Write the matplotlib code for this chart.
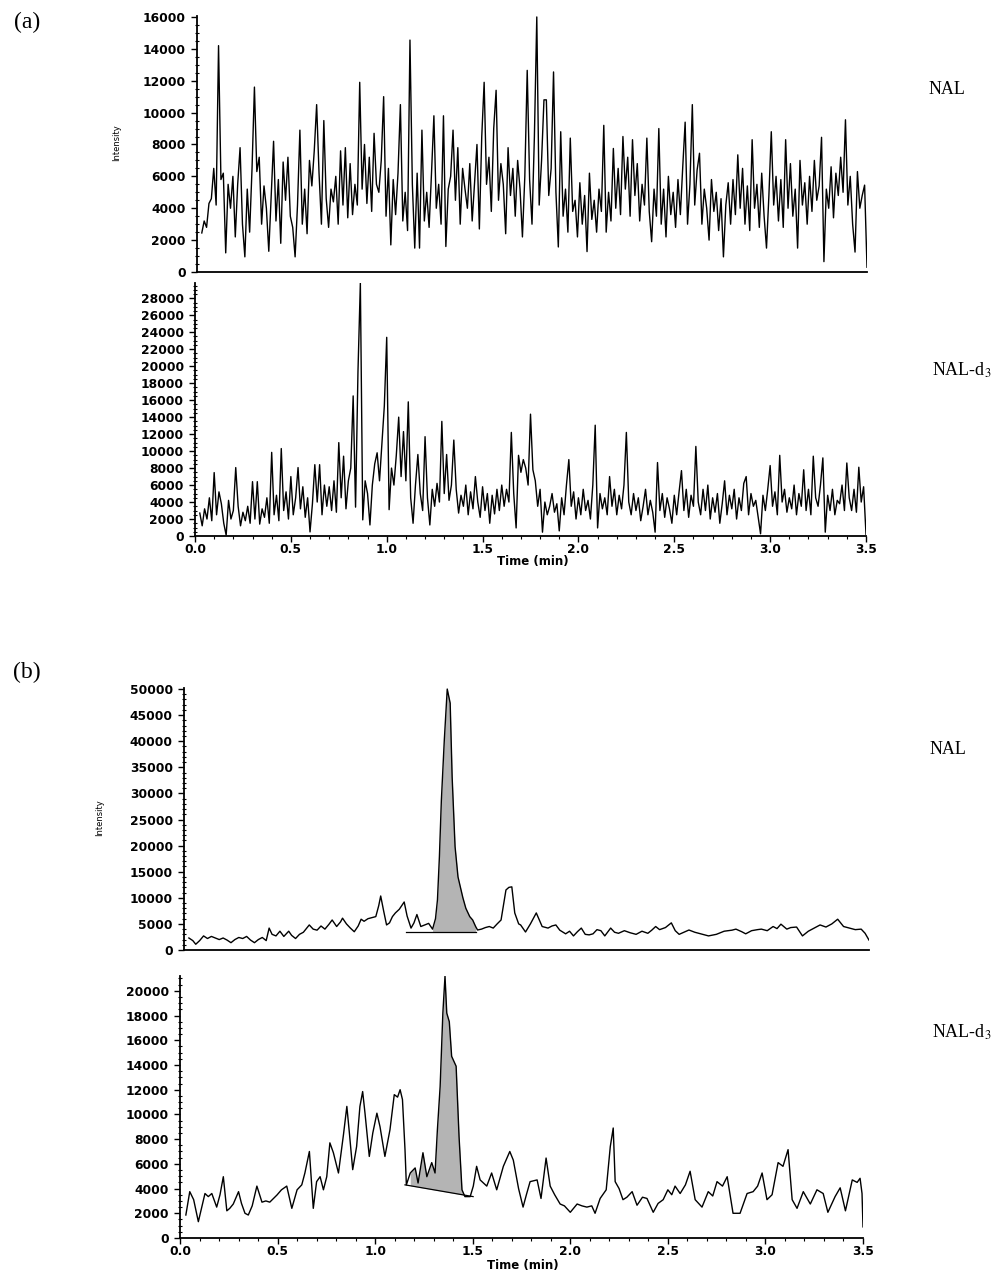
import numpy as np
import matplotlib
matplotlib.use('Agg')
import matplotlib.pyplot as plt
from matplotlib.ticker import MultipleLocator, FixedLocator

W, H = 1004, 1276

# (a) blank run, NAL trace (intensity), sampled every 0.0125 min from 0.025 to 3.5
a_nal = [
    2450, 3200, 2800, 4300, 4600, 6500,
    4200, 14200, 5800, 6200, 1200, 5500, 4000, 6000,
    2200, 5500, 7800, 3000, 950, 5200, 2500, 6500,
    11600, 6300, 7200, 3000, 5400, 4000, 1300, 4800,
    8200, 3200, 5800, 1800, 6900, 4500, 7200, 3500,
    2800, 950, 4200, 8900, 3000, 5200, 2400, 7000,
    5400, 7600, 10500, 6200, 3000, 9500, 4600, 2800,
    5200, 4400, 6000, 3000, 7600, 4200, 7800, 3400,
    6800, 3600, 5500, 4200, 11900, 5200, 8000, 4300,
    7200, 3800, 8700, 5500, 5000, 7000, 11000, 3500,
    6500, 1700, 5800, 3600, 6200, 10500, 3200, 5000,
    2600, 14550, 5500, 1500, 6200, 1500, 8900, 3200,
    5000, 2800, 6200, 9800, 4000, 5500, 3000, 9800,
    1600, 5200, 6000, 8900, 4500, 7800, 3000, 6500,
    5200, 4000, 6800, 3200, 5600, 8000, 2700, 8500,
    11900, 5500, 7200, 3800, 9000, 11400, 4500, 6800,
    5500, 2400, 7800, 4800, 6500, 3500, 7000, 5200,
    2200, 6000, 12650, 5800, 3000, 8500, 16000, 4200,
    7000, 10800, 10800, 4800, 6500, 12550, 5000, 1570,
    8800, 3500, 5200, 2500, 8400, 3800, 4500, 2200,
    5600, 3000, 4800, 1280, 6200, 3300, 4500, 2500,
    5200, 3800, 9200, 2500, 5000, 3200, 7750, 4000,
    6500, 3600, 8500, 5200, 7200, 3500, 8300, 4800,
    6800, 3200, 5500, 4200, 8400, 3800, 1900, 5200,
    3500, 9000, 3000, 5200, 2200, 6000, 3600, 5000,
    2800, 5800, 3600, 6600, 9400, 3000, 5500, 10500,
    4200, 6400, 7450, 3000, 5200, 4000, 2000, 5800,
    3800, 5000, 2600, 4600, 950, 4200, 5600, 3000,
    5800, 3600, 7350, 4000, 6500, 3000, 5400, 2600,
    8300, 4000, 5500, 2800, 6200, 3500, 1500, 4800,
    8800, 4200, 6000, 3200, 5800, 2800, 8300, 4000,
    6800, 3500, 5200, 1500, 7000, 4200, 5600, 3000,
    6000, 3800, 7000, 4500, 5400, 8450, 650, 5200,
    4000, 6600, 3400, 6200, 4800, 7200, 5000, 9550,
    4200, 6000, 3000, 1250, 6300, 4000, 4800, 5450,
    300,
]

# (a) blank run, NAL-d3 trace, same sampling
a_nald3 = [
    2700, 1200, 3200, 2000, 4500, 1800,
    7470, 2500, 5200, 3800, 1500, 100, 4200, 2000,
    3000, 8060, 3500, 1200, 2800, 1800, 3500, 1500,
    6400, 2000, 6400, 1400, 3200, 2200, 4500, 1500,
    9850, 2500, 4800, 1800, 10300, 3000, 5200, 2000,
    7000, 2500, 4500, 8060, 3200, 5800, 2200, 4500,
    480, 3800, 8400, 4000, 8400, 2500, 6000, 3500,
    5800, 3000, 6500, 2800, 11000, 4500, 9400, 3200,
    6500, 8000, 16500, 3400, 19300, 29800, 1900, 6500,
    5000, 1300, 6000, 8500, 9800, 6500, 11000, 15300,
    23400, 3100, 8000, 6000, 9500, 14000, 7000, 12300,
    6500, 15800, 4500, 1500, 6000, 9600, 5000, 3000,
    11700, 4500, 1300, 5500, 3500, 6200, 4000, 13500,
    5000, 9600, 4200, 6000, 11300, 5500, 2700, 4800,
    3500, 6000, 2500, 5200, 3200, 7000, 4000, 2200,
    5800, 3000, 5000, 1500, 4800, 2600, 5500, 3000,
    6000, 3500, 5500, 4000, 12200, 5000, 950, 9500,
    7500, 9000, 8000, 6000, 14350, 7800, 6500, 3500,
    5500, 450, 4000, 2500, 3500, 5000, 2800, 3800,
    600, 4500, 2500, 6000, 9000, 3500, 5200, 2000,
    4500, 2500, 5500, 3000, 4200, 2000, 6000, 13050,
    950, 5000, 3200, 4500, 2500, 7000, 3500, 5500,
    2500, 4800, 3200, 6000, 12200, 4000, 2500, 5000,
    3000, 4500, 1800, 3500, 5500, 2500, 4200, 2800,
    450, 8650, 3000, 5000, 2200, 4500, 3200, 1500,
    4800, 2500, 5200, 7700, 3000, 5500, 2200, 4800,
    3500, 10550, 4000, 2500, 5500, 3000, 6000, 2000,
    4500, 2800, 5000, 1500, 3800, 6500, 2500, 4800,
    3200, 5500, 2000, 4500, 3000, 6200, 7000, 2500,
    5000, 3500, 4200, 2200, 260, 4800, 3000, 5500,
    8300, 3500, 5200, 2500, 9500, 4000, 5500, 2800,
    4500, 3200, 6000, 2500, 5000, 3500, 7800, 3000,
    5500, 2500, 9400, 4500, 3500, 6000, 9200, 450,
    4800, 3000, 5500, 2500, 4200, 3800, 6000, 3000,
    8600, 4500, 3000, 5500, 2800, 8100, 4000, 5800,
    200,
]

# (b) spiked sample, NAL trace
b_nal_t = [0.025, 0.045, 0.06, 0.08, 0.10, 0.12, 0.14, 0.16, 0.18, 0.20, 0.22, 0.24,
           0.26, 0.28, 0.30, 0.32, 0.34, 0.36, 0.38, 0.40, 0.42, 0.435, 0.45, 0.47,
           0.49, 0.51, 0.535, 0.55, 0.57, 0.59, 0.61, 0.64, 0.66, 0.68, 0.70, 0.72,
           0.74, 0.757, 0.78, 0.80, 0.81, 0.83, 0.85, 0.87, 0.89, 0.905, 0.92, 0.94,
           0.96, 0.98, 0.995, 1.005, 1.02, 1.035, 1.05, 1.065, 1.08, 1.10, 1.125, 1.14,
           1.16, 1.175, 1.19, 1.21, 1.23, 1.25, 1.27, 1.285, 1.295, 1.305, 1.315, 1.33,
           1.345, 1.36, 1.37, 1.385, 1.40, 1.425, 1.44, 1.46, 1.475, 1.49, 1.50, 1.52,
           1.54, 1.56, 1.58, 1.60, 1.62, 1.645, 1.66, 1.675, 1.69, 1.71, 1.72, 1.745,
           1.77, 1.80, 1.83, 1.86, 1.88, 1.90, 1.92, 1.95, 1.97, 1.99, 2.01, 2.03,
           2.05, 2.07, 2.09, 2.11, 2.13, 2.15, 2.18, 2.20, 2.22, 2.25, 2.28, 2.31,
           2.34, 2.37, 2.39, 2.41, 2.43, 2.46, 2.49, 2.51, 2.53, 2.56, 2.58, 2.61,
           2.64, 2.68, 2.72, 2.76, 2.80, 2.82, 2.85, 2.87, 2.90, 2.93, 2.95, 2.98,
           3.01, 3.03, 3.05, 3.08, 3.10, 3.13, 3.16, 3.19, 3.22, 3.25, 3.28, 3.31,
           3.34, 3.37, 3.40, 3.43, 3.46, 3.48, 3.50]
b_nal_v = [2300, 1800, 1100, 1800, 2700, 2200, 2600, 2300, 2000, 2300, 1900, 1400,
           2000, 2400, 2200, 2600, 1900, 1400, 2000, 2400, 1800, 4200, 3000, 2700,
           3600, 2600, 3600, 2800, 2200, 3000, 3400, 4800, 4000, 3800, 4600, 4000,
           4900, 5750, 4500, 5400, 6100, 5000, 4200, 3500, 4600, 5900, 5500, 6000,
           6200, 6400, 8500, 10350, 7500, 4800, 5200, 6400, 7100, 7800, 9200, 6500,
           4200, 5200, 6800, 4500, 4800, 5100, 4000, 6000, 9600, 17900, 28700, 40200,
           50000, 47300, 33200, 19800, 14000, 10000, 8000, 6400, 5750, 4500, 3830, 4000,
           4300, 4500, 4200, 5000, 5750, 11500, 12000, 12100, 7100, 5000, 4800, 3450,
           5000, 7100, 4500, 4200, 4600, 4800, 3800, 3100, 3600, 2700, 3500, 4200,
           3000, 2900, 3100, 3900, 3700, 2700, 4200, 3400, 3200, 3700, 3300, 3000,
           3600, 3200, 3800, 4500, 3900, 4300, 5200, 3700, 3000, 3500, 3830, 3400,
           3100, 2700, 3000, 3600, 3800, 4000, 3500, 3100, 3700, 3900, 4000, 3700,
           4500, 4100, 4950, 4000, 4300, 4400, 2700, 3600, 4200, 4800, 4400, 5000,
           5900, 4500, 4200, 3900, 4000, 3200, 1900]

# (b) spiked sample, NAL-d3 trace
b_nald3_t = [0.03, 0.05, 0.07, 0.094, 0.11, 0.128, 0.145, 0.163, 0.188, 0.205, 0.222, 0.24,
             0.255, 0.273, 0.30, 0.315, 0.333, 0.35, 0.37, 0.394, 0.42, 0.44, 0.46, 0.497,
             0.52, 0.547, 0.573, 0.60, 0.624, 0.64, 0.663, 0.683, 0.70, 0.718, 0.735, 0.752,
             0.768, 0.786, 0.80, 0.812, 0.838, 0.855, 0.868, 0.885, 0.905, 0.922, 0.936, 0.948,
             0.97, 0.988, 1.009, 1.025, 1.05, 1.076, 1.098, 1.115, 1.128, 1.14, 1.153, 1.16,
             1.18, 1.205, 1.22, 1.245, 1.265, 1.29, 1.307, 1.319, 1.333, 1.347, 1.358, 1.367,
             1.38, 1.392, 1.415, 1.43, 1.445, 1.46, 1.487, 1.503, 1.52, 1.538, 1.572, 1.597,
             1.623, 1.657, 1.69, 1.708, 1.735, 1.758, 1.775, 1.794, 1.83, 1.85, 1.876, 1.897,
             1.92, 1.948, 1.97, 2.0, 2.035, 2.06, 2.085, 2.11, 2.127, 2.153, 2.184, 2.205,
             2.22, 2.23, 2.25, 2.27, 2.29, 2.317, 2.342, 2.37, 2.393, 2.425, 2.45, 2.476,
             2.50, 2.52, 2.537, 2.563, 2.59, 2.614, 2.64, 2.675, 2.707, 2.73, 2.752, 2.78,
             2.804, 2.834, 2.87, 2.906, 2.937, 2.96, 2.983, 3.008, 3.034, 3.065, 3.09, 3.116,
             3.137, 3.162, 3.194, 3.23, 3.264, 3.296, 3.32, 3.357, 3.383, 3.41, 3.445, 3.47,
             3.485, 3.495, 3.50]
b_nald3_v = [1860, 3750, 3100, 1320, 2400, 3600, 3350, 3600, 2500, 3500, 4960, 2200,
             2400, 2750, 3750, 2800, 2000, 1860, 2600, 4200, 2900, 3000, 2900, 3480,
             3900, 4200, 2400, 3900, 4300, 5260, 7000, 2400, 4560, 4960, 3900, 4960,
             7700, 6900, 6000, 5260, 8400, 10650, 8500, 5530, 7400, 10650, 11850, 10100,
             6600, 8500, 10100, 9000, 6600, 8760, 11600, 11400, 12000, 11200, 7150, 4300,
             5260, 5670, 4450, 6900, 4960, 6100, 5260, 8760, 12250, 18200, 21200, 18200,
             17500, 14700, 13900, 8200, 3900, 3350, 3350, 4200, 5800, 4700, 4200, 5260,
             3900, 5800, 7000, 6300, 4000, 2500, 3500, 4560, 4700, 3200, 6470, 4200,
             3500, 2750, 2600, 2080, 2750, 2600, 2500, 2600, 2000, 3200, 3900, 7400,
             8900, 4560, 4000, 3100, 3300, 3750, 2650, 3300, 3200, 2080, 2800, 3100,
             3900, 3500, 4200, 3600, 4300, 5400, 3100, 2500, 3750, 3400, 4560, 4200,
             4960, 2000, 2000, 3600, 3750, 4200, 5260, 3100, 3500, 6100, 5800, 7150,
             3100, 2400, 3750, 2750, 3900, 3600, 2080, 3350, 4060, 2200, 4700, 4500,
             4830, 3600, 900]

# integration baselines (start time, start value, end time, end value) and shaded range
b_nal_base = [1.134, 3500, 1.49, 3500]
b_nal_shade = [1.27, 1.49]
b_nald3_base = [1.153, 4300, 1.502, 3350]
b_nald3_shade = [1.17, 1.47]

x_ticks = [0.0, 0.5, 1.0, 1.5, 2.0, 2.5, 3.0, 3.5]
x_labels = ['0.0', '0.5', '1.0', '1.5', '2.0', '2.5', '3.0', '3.5']


def box(left, top, right, bottom):
    return [left / W, 1 - bottom / H, (right - left) / W, (bottom - top) / H]


def fx(x, y):
    return x / W, 1 - y / H


plt.rcParams['mathtext.fontset'] = 'stix'
fig = plt.figure(figsize=(W / 100, H / 100), dpi=100)
fig.patch.set_facecolor('white')

tick_font = dict(family='DejaVu Sans', weight='bold', size=8.8)


def style_axis(ax, ymax, ymaj, ymin, xlabels):
    ax.set_xlim(0, 3.5)
    ax.set_ylim(0, ymax)
    for s in ['top', 'right']:
        ax.spines[s].set_visible(False)
    for s in ['left', 'bottom']:
        ax.spines[s].set_linewidth(1.3)
    ax.yaxis.set_major_locator(MultipleLocator(ymaj))
    ax.yaxis.set_minor_locator(MultipleLocator(ymin))
    ax.tick_params(axis='y', which='major', direction='out', length=4, width=1, pad=4)
    ax.tick_params(axis='y', which='minor', direction='inout', length=3, width=0.8)
    for lab in ax.get_yticklabels():
        lab.set_fontproperties(tick_font)
    if xlabels:
        ax.xaxis.set_major_locator(FixedLocator(x_ticks))
        ax.xaxis.set_minor_locator(MultipleLocator(0.1))
        ax.set_xticklabels(x_labels)
        ax.tick_params(axis='x', which='major', direction='out', length=4, width=1, pad=1)
        ax.tick_params(axis='x', which='minor', direction='out', length=2, width=0.8)
        for lab in ax.get_xticklabels():
            lab.set_fontproperties(tick_font)
    else:
        ax.set_xticks([])


# ---- (a) ----
ax1 = fig.add_axes(box(197, 16, 867, 272))
t_a1 = np.linspace(0.025, 3.5, len(a_nal))
ax1.plot(t_a1, a_nal, color='black', lw=1.0)
style_axis(ax1, 16060, 2000, 500, False)

ax2 = fig.add_axes(box(195, 283, 866, 536))
t_a2 = np.linspace(0.025, 3.5, len(a_nald3))
ax2.plot(t_a2, a_nald3, color='black', lw=1.0)
style_axis(ax2, 29800, 2000, 500, True)

# ---- (b) ----
def draw_peak(ax, t, v, base, shade):
    t = np.array(t)
    v = np.array(v)
    bl = np.interp(t, [base[0], base[2]], [base[1], base[3]])
    m = (t >= shade[0]) & (t <= shade[1])
    ax.fill_between(t[m], bl[m], v[m], color='#b4b4b4', lw=0)
    ax.plot([base[0], base[2]], [base[1], base[3]], color='black', lw=0.9)
    ax.plot(t, v, color='black', lw=1.0)


ax3 = fig.add_axes(box(184, 688, 869, 950))
draw_peak(ax3, b_nal_t, b_nal_v, b_nal_base, b_nal_shade)
style_axis(ax3, 50200, 5000, 1000, False)

ax4 = fig.add_axes(box(180, 976, 863, 1238))
draw_peak(ax4, b_nald3_t, b_nald3_v, b_nald3_base, b_nald3_shade)
style_axis(ax4, 21200, 2000, 500, True)

# ---- labels ----
serif = 'Liberation Serif'
fig.text(*fx(27, 22), '(a)', family=serif, size=17, ha='center', va='center')
fig.text(*fx(27, 672), '(b)', family=serif, size=17, ha='center', va='center')
fig.text(*fx(947, 89), 'NAL', family=serif, size=13, ha='center', va='center')
fig.text(*fx(962, 370), 'NAL-d$_3$', family=serif, size=13, ha='center', va='center')
fig.text(*fx(948, 750), 'NAL', family=serif, size=13, ha='center', va='center')
fig.text(*fx(962, 1032), 'NAL-d$_3$', family=serif, size=13, ha='center', va='center')

fig.text(*fx(117, 143), 'Intensity', family='DejaVu Sans', size=6, rotation=90,
         ha='center', va='center')
fig.text(*fx(100, 818), 'Intensity', family='DejaVu Sans', size=6, rotation=90,
         ha='center', va='center')
fig.text(*fx(533, 562), 'Time (min)', family='DejaVu Sans', weight='bold', size=8.5,
         ha='center', va='center')
fig.text(*fx(523, 1265), 'Time (min)', family='DejaVu Sans', weight='bold', size=8.5,
         ha='center', va='center')

fig.savefig('out.png', dpi=100, facecolor='white')
